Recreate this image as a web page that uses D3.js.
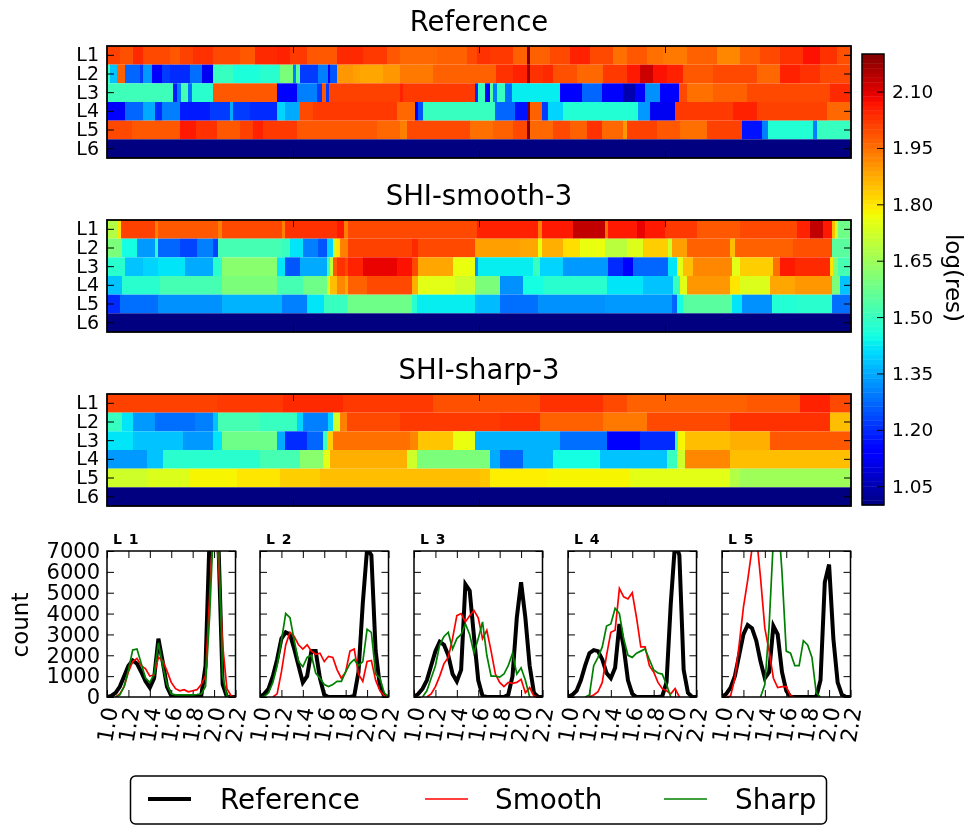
<!DOCTYPE html>
<html>
<head>
<meta charset="utf-8">
<script src="https://cdn.jsdelivr.net/npm/d3@7"></script>
<style>
  body { margin: 0; background: #fff; }
  svg { display: block; font-family: "DejaVu Sans", sans-serif; filter: blur(0.6px); }
</style>
</head>
<body>
<svg id="chart" width="970" height="825"></svg>
<script>
// heatmap rows: [end of run along the axis, log(res)]
const refL1 = [[13,2.01],[26,1.99],[36,2.04],[63,2.0],[73,1.98],[86,2.01],[106,2.03],[133,2.0],[148,1.98],[170,2.04],[183,2.05],[200,2.02],[230,1.98],[256,2.04],[280,2.02],[293,1.98],[316,1.96],[330,1.96],[360,1.97],[370,2.0],[383,2.03],[406,2.02],[420,1.97],[423,2.2],[443,1.97],[463,2.0],[483,2.05],[506,2.0],[520,1.95],[540,1.98],[556,1.95],[580,1.94],[610,1.97],[633,1.92],[653,1.97],[673,2.0],[696,2.03],[713,2.07],[730,2.03],[744,1.99]];
const refL2 = [[3,1.5],[10,1.38],[18,1.97],[33,1.27],[36,1.22],[45,1.33],[55,1.15],[63,1.22],[83,1.2],[95,1.28],[106,1.12],[126,1.5],[153,1.46],[173,1.48],[186,1.6],[189,1.3],[193,1.55],[211,1.22],[221,1.3],[223,1.15],[230,1.25],[246,1.9],[253,1.89],[276,1.88],[293,1.9],[326,1.94],[360,1.97],[389,1.97],[406,2.03],[420,2.05],[423,2.17],[436,2.03],[446,2.04],[470,1.99],[496,1.96],[520,2.02],[533,2.06],[546,2.12],[560,2.07],[576,2.05],[606,1.98],[650,2.0],[673,1.96],[693,2.05],[713,2.03],[744,2.0]];
const refL3 = [[66,1.51],[70,1.18],[74,1.3],[81,1.52],[85,1.28],[106,1.48],[170,1.98],[190,1.15],[196,1.3],[210,1.3],[215,1.22],[219,1.98],[222,1.22],[293,2.01],[296,2.05],[368,2.02],[371,1.2],[378,1.5],[383,1.15],[386,1.55],[390,1.3],[398,1.5],[405,1.28],[453,1.43],[466,1.15],[475,1.13],[495,1.27],[516,1.13],[528,1.05],[538,1.15],[553,1.32],[572,1.15],[580,2.0],[606,1.95],[640,1.97],[723,2.0],[744,2.04]];
const refL4 = [[18,1.15],[36,1.27],[48,1.35],[55,1.2],[73,1.3],[103,1.18],[123,1.22],[126,1.35],[143,1.22],[170,1.2],[178,1.4],[193,1.35],[206,2.0],[290,2.02],[308,1.96],[311,1.15],[316,1.25],[388,1.5],[408,1.27],[420,1.17],[423,2.2],[435,1.97],[441,1.22],[456,1.4],[531,1.47],[543,1.33],[568,1.12],[626,2.02],[650,2.05],[720,2.01],[744,1.96]];
const refL5 = [[25,2.0],[73,1.98],[89,2.06],[110,2.03],[133,1.98],[146,2.01],[156,2.05],[190,2.02],[270,1.98],[293,1.96],[300,1.93],[363,2.0],[386,1.95],[406,1.97],[420,2.0],[423,2.2],[446,1.96],[463,2.0],[480,1.97],[495,2.03],[516,1.96],[520,1.9],[550,2.01],[573,1.98],[600,1.95],[635,2.01],[655,1.17],[661,1.3],[706,1.47],[710,1.3],[744,1.5]];
const smoothL1 = [[10,1.68],[14,1.8],[48,2.01],[51,1.93],[111,1.98],[115,1.93],[175,2.0],[178,1.93],[230,2.03],[237,2.06],[241,1.93],[293,2.0],[370,2.0],[393,2.05],[431,2.05],[435,1.93],[466,2.06],[498,2.13],[501,1.95],[530,2.06],[538,2.09],[558,2.06],[590,2.02],[633,1.98],[690,2.0],[703,2.05],[716,2.13],[725,2.06],[728,1.85],[731,1.72],[744,1.58]];
const smoothL2 = [[15,1.6],[30,1.45],[48,1.33],[51,1.48],[73,1.27],[90,1.23],[106,1.3],[111,1.23],[175,1.52],[183,1.5],[196,1.42],[211,1.3],[220,1.25],[226,1.4],[229,1.7],[233,1.8],[241,1.93],[305,2.01],[311,2.04],[368,2.0],[413,1.89],[431,1.88],[435,1.76],[456,1.87],[473,1.81],[498,1.76],[520,1.69],[536,1.74],[561,1.83],[565,1.72],[580,1.89],[623,1.97],[628,1.85],[686,1.97],[725,1.99],[744,1.55]];
const smoothL3 = [[18,1.48],[36,1.38],[51,1.4],[78,1.42],[106,1.35],[115,1.48],[170,1.62],[178,1.42],[193,1.25],[220,1.35],[223,1.5],[226,1.7],[230,1.98],[238,2.03],[241,2.0],[256,2.05],[290,2.09],[305,2.07],[311,2.0],[346,1.88],[368,1.76],[371,1.32],[426,1.43],[433,1.5],[456,1.4],[501,1.33],[516,1.2],[526,1.14],[561,1.27],[570,1.42],[576,1.75],[586,1.85],[625,1.92],[633,1.75],[666,1.83],[673,1.95],[688,2.06],[723,2.04],[726,1.8],[731,1.6],[744,1.52]];
const smoothL4 = [[15,1.38],[53,1.48],[115,1.52],[170,1.6],[196,1.52],[220,1.58],[223,1.72],[230,1.85],[238,1.92],[241,1.88],[260,1.97],[305,2.0],[311,1.87],[348,1.75],[368,1.72],[393,1.6],[416,1.32],[436,1.45],[500,1.48],[536,1.42],[566,1.38],[573,1.5],[580,1.75],[623,1.9],[633,1.8],[663,1.74],[688,1.88],[725,1.9],[733,1.6],[744,1.38]];
const smoothL5 = [[13,1.2],[51,1.28],[115,1.32],[175,1.36],[200,1.3],[217,1.42],[240,1.5],[305,1.58],[310,1.48],[368,1.43],[393,1.37],[431,1.28],[498,1.32],[565,1.33],[570,1.27],[576,1.45],[625,1.55],[635,1.42],[665,1.32],[690,1.47],[725,1.48],[744,1.28]];
const sharpL1 = [[110,2.01],[176,2.02],[236,2.04],[326,2.02],[393,1.99],[433,1.99],[496,2.03],[520,2.0],[580,1.97],[640,1.97],[693,1.98],[723,2.05],[744,2.0]];
const sharpL2 = [[15,1.5],[26,1.42],[48,1.33],[88,1.28],[106,1.3],[111,1.38],[153,1.52],[190,1.5],[196,1.4],[221,1.3],[226,1.4],[233,1.72],[240,1.93],[293,2.0],[393,2.02],[433,2.03],[496,1.97],[540,1.94],[623,2.0],[723,2.03],[744,1.85]];
const sharpL3 = [[26,1.42],[76,1.38],[106,1.33],[115,1.42],[170,1.58],[178,1.35],[200,1.2],[216,1.27],[220,1.5],[226,1.83],[303,1.95],[311,1.92],[346,1.84],[368,1.76],[453,1.36],[500,1.28],[533,1.15],[568,1.2],[571,1.5],[578,1.78],[623,1.85],[663,1.87],[744,1.98]];
const sharpL4 = [[40,1.33],[56,1.38],[153,1.48],[193,1.52],[216,1.62],[223,1.75],[300,1.87],[310,1.72],[383,1.6],[393,1.35],[416,1.27],[446,1.36],[493,1.45],[560,1.38],[570,1.5],[578,1.72],[623,1.92],[744,1.85]];
const sharpL5 = [[40,1.72],[83,1.74],[130,1.78],[173,1.8],[213,1.83],[310,1.85],[373,1.85],[383,1.84],[440,1.79],[523,1.78],[623,1.75],[633,1.68],[744,1.65]];
const emptyL6 = [[744,1.0]];

const rowNames = ["L1", "L2", "L3", "L4", "L5", "L6"];
const heatTitles = ["Reference", "SHI-smooth-3", "SHI-sharp-3"];
const colorTicks = [1.05, 1.20, 1.35, 1.50, 1.65, 1.80, 1.95, 2.10];

// histogram counts, one value for each bin of histBins
const histBins = d3.range(31).map(i => 1 + i * 0.04);
const histTicksX = [1.0, 1.2, 1.4, 1.6, 1.8, 2.0, 2.2];
const histTicksY = [0, 1000, 2000, 3000, 4000, 5000, 6000, 7000];
const histNames = ["L 1", "L 2", "L 3", "L 4", "L 5"];
const refHist1 = [0,50,200,500,1000,1500,1750,1600,1200,750,450,900,2800,1700,500,60,0,0,0,0,0,0,50,1500,8000,12000,7500,600,0,0,0];
const refHist2 = [0,150,400,1000,1800,2800,3100,3000,2300,1500,700,1000,2200,2200,900,100,0,0,0,0,0,0,50,1200,4500,7100,6800,2200,500,50,0];
const refHist3 = [0,150,400,800,1500,2200,2650,2500,2000,1100,750,1300,5400,5100,2900,800,50,0,0,0,0,0,100,1000,3800,5500,3800,1500,200,0,0];
const refHist4 = [0,100,300,800,1500,2100,2250,2200,1800,1150,900,1400,3500,2400,800,150,0,0,0,0,0,0,30,700,4500,7400,6800,1300,200,0,0];
const refHist5 = [0,150,450,1000,2000,3000,3450,3300,2700,1700,900,1200,3400,3000,1200,300,0,0,0,0,0,0,0,800,5500,6350,2800,700,100,0,0];
const smoothHist1 = [0,0,0,150,500,1200,1700,1850,1500,1350,1000,1050,1900,1750,1250,700,400,300,350,250,300,350,600,1000,5000,9000,6500,2500,400,50,0];
const smoothHist2 = [0,0,0,0,150,1200,2500,3100,2900,2500,2300,2500,2200,2050,2100,1700,1950,1900,1300,900,1200,2200,2300,1100,750,1700,1750,800,300,60,0];
const smoothHist3 = [0,0,0,0,150,500,1000,1600,1900,2800,3900,4000,3600,3900,4150,3800,2800,3200,2200,1100,700,500,700,650,700,850,200,450,50,0,0];
const smoothHist4 = [0,0,0,0,0,0,100,250,700,2000,3100,3200,5200,4800,4700,5000,3800,2400,2400,1500,1200,700,400,300,150,400,0,0,0,0,0];
const smoothHist5 = [0,0,50,900,2500,4300,5600,7100,7800,5700,3300,2200,900,450,500,500,50,0,0,0,0,0,0,0,0,0,0,0,0,0,0];
const sharpHist1 = [0,0,0,100,500,1300,2250,2300,1600,900,700,1100,2600,1500,600,150,100,100,100,100,100,120,150,500,4000,9000,8000,1000,50,0,0];
const sharpHist2 = [0,30,200,700,1500,2700,4000,3800,2700,1700,1450,1900,2000,1150,900,600,500,600,750,750,1200,1600,1800,1500,1700,3250,3100,1100,900,200,0];
const sharpHist3 = [0,0,0,300,900,1500,2500,2900,3100,2300,2800,3000,3500,3000,2100,2800,3600,2000,1000,1000,950,1100,1500,2100,1100,1400,800,0,0,0,0];
const sharpHist4 = [0,0,0,0,0,100,1500,1900,2400,3400,3500,4250,4000,2800,2000,1900,2100,2200,2300,1800,1300,1150,1100,600,0,0,0,0,0,0,0];
const sharpHist5 = [0,0,0,0,0,0,0,0,0,0,600,3400,7600,9000,6000,2200,2100,1500,1500,2700,2500,1900,200,0,0,0,0,0,0,0,0];

const legendItems = [
    { label: "Reference", color: "#000", width: 4 },
    { label: "Smooth", color: "#ff0000", width: 1.6 },
    { label: "Sharp", color: "#008000", width: 1.6 }
];

const heatRows = [
    [refL1, refL2, refL3, refL4, refL5, emptyL6],
    [smoothL1, smoothL2, smoothL3, smoothL4, smoothL5, emptyL6],
    [sharpL1, sharpL2, sharpL3, sharpL4, sharpL5, emptyL6]
];
const histSeries = [
    [refHist1, smoothHist1, sharpHist1],
    [refHist2, smoothHist2, sharpHist2],
    [refHist3, smoothHist3, sharpHist3],
    [refHist4, smoothHist4, sharpHist4],
    [refHist5, smoothHist5, sharpHist5]
];

const svg = d3.select("#chart");

// jet colormap
const jetR = d3.scaleLinear().domain([0, 0.35, 0.66, 0.89, 1]).range([0, 0, 1, 1, 0.5]);
const jetG = d3.scaleLinear().domain([0, 0.125, 0.375, 0.64, 0.91, 1]).range([0, 0, 1, 1, 0, 0]);
const jetB = d3.scaleLinear().domain([0, 0.11, 0.34, 0.65, 1]).range([0.5, 1, 1, 0, 0]);
const valueNorm = d3.scaleLinear().domain([1.0, 2.2]).range([0, 1]).clamp(true);
function jet(value) {
    const t = valueNorm(value);
    return d3.rgb(jetR(t) * 255, jetG(t) * 255, jetB(t) * 255).formatRgb();
}

function styleAxis(sel, fontSize) {
    sel.select(".domain").remove();
    sel.selectAll("line").attr("stroke", "#000").attr("stroke-width", 1);
    sel.selectAll("text").attr("fill", "#000").attr("font-size", fontSize)
        .attr("font-family", "DejaVu Sans");
}

// Heatmap panels
const heatX = d3.scaleLinear().domain([0, 744]).range([107, 851]);
const heatTops = [46, 220, 394];
const heatHeight = 112;

heatRows.forEach((rows, p) => {
    const top = heatTops[p];
    const y = d3.scaleBand().domain(rowNames).range([top, top + heatHeight]);
    const g = svg.append("g");

    rows.forEach((runs, r) => {
        let start = 0;
        runs.forEach(([end, value]) => {
            g.append("rect")
                .attr("x", heatX(start))
                .attr("y", y(rowNames[r]))
                .attr("width", heatX(end) - heatX(start) + 0.3)
                .attr("height", y.bandwidth())
                .attr("fill", jet(value));
            start = end;
        });
    });

    const tickVals = [186, 372, 558];
    g.append("g").attr("transform", `translate(0,${top})`)
        .call(d3.axisTop(heatX).tickValues(tickVals).tickSize(-7).tickFormat(""))
        .call(styleAxis, 10);
    g.append("g").attr("transform", `translate(0,${top + heatHeight})`)
        .call(d3.axisBottom(heatX).tickValues(tickVals).tickSize(-7).tickFormat(""))
        .call(styleAxis, 10);
    g.append("g").attr("transform", "translate(107,0)")
        .call(d3.axisLeft(y).tickSize(-7).tickPadding(8))
        .call(styleAxis, 19);
    g.append("g").attr("transform", "translate(851,0)")
        .call(d3.axisRight(y).tickSize(-7).tickFormat(""))
        .call(styleAxis, 10);

    g.append("rect")
        .attr("x", 107).attr("y", top)
        .attr("width", 744).attr("height", heatHeight)
        .attr("fill", "none").attr("stroke", "#000").attr("stroke-width", 1.8);

    svg.append("text")
        .attr("x", 479).attr("y", top - 15)
        .attr("text-anchor", "middle")
        .attr("font-size", 27.5)
        .text(heatTitles[p]);
});

// Colorbar
const barY = d3.scaleLinear().domain([1.0, 2.2]).range([505, 54]);
const barG = svg.append("g");
d3.range(96).map(i => 1 + i * 0.0125).forEach(v => {
    barG.append("rect")
        .attr("x", 862)
        .attr("y", barY(v + 0.0125))
        .attr("width", 22)
        .attr("height", barY(v) - barY(v + 0.0125) + 0.4)
        .attr("fill", jet(v + 0.00625));
});
barG.append("g").attr("transform", "translate(884,0)")
    .call(d3.axisRight(barY).tickValues(colorTicks).tickSize(-7).tickPadding(8)
        .tickFormat(d3.format(".2f")))
    .call(styleAxis, 18.5);
barG.append("rect")
    .attr("x", 862).attr("y", 54).attr("width", 22).attr("height", 451)
    .attr("fill", "none").attr("stroke", "#000").attr("stroke-width", 1.5);
svg.append("text")
    .attr("transform", "translate(946,278) rotate(90)")
    .attr("text-anchor", "middle")
    .attr("font-size", 23)
    .text("log(res)");

// Histogram panels
const histLefts = [107, 260, 414, 568, 722];
const histWidth = 128.5;
const histTop = 551;
const histBottom = 697;
const histColors = ["#000", "#ff0000", "#008000"];
const histWidths = [4, 1.7, 1.7];
const histY = d3.scaleLinear().domain([0, 7000]).range([histBottom, histTop]);

histSeries.forEach((series, p) => {
    const left = histLefts[p];
    const x = d3.scaleLinear().domain([1.0, 2.2]).range([left, left + histWidth]);
    const g = svg.append("g");

    svg.append("clipPath").attr("id", `hist-clip-${p}`)
        .append("rect")
        .attr("x", left).attr("y", histTop)
        .attr("width", histWidth).attr("height", histBottom - histTop);

    g.append("g").attr("transform", `translate(0,${histBottom})`)
        .call(d3.axisBottom(x).tickValues(histTicksX).tickSize(-7).tickFormat(""))
        .call(styleAxis, 10);
    g.append("g").attr("transform", `translate(0,${histTop})`)
        .call(d3.axisTop(x).tickValues(histTicksX).tickSize(-7).tickFormat(""))
        .call(styleAxis, 10);
    g.append("g").attr("transform", `translate(${left},0)`)
        .call(d3.axisLeft(histY).tickValues(histTicksY).tickSize(-7).tickPadding(7)
            .tickFormat(p === 0 ? d3.format("d") : ""))
        .call(styleAxis, 21);
    g.append("g").attr("transform", `translate(${left + histWidth},0)`)
        .call(d3.axisRight(histY).tickValues(histTicksY).tickSize(-7).tickFormat(""))
        .call(styleAxis, 10);

    series.forEach((values, s) => {
        // empty bins of the two runs are not drawn along the baseline
        const line = d3.line()
            .x((d, i) => x(histBins[i]))
            .y(d => histY(d))
            .defined((d, i, arr) => s === 0 || d > 0 || arr[i - 1] > 0 || arr[i + 1] > 0);
        g.append("path")
            .datum(values)
            .attr("clip-path", `url(#hist-clip-${p})`)
            .attr("fill", "none")
            .attr("stroke", histColors[s])
            .attr("stroke-width", histWidths[s])
            .attr("d", line);
    });

    g.append("rect")
        .attr("x", left).attr("y", histTop)
        .attr("width", histWidth).attr("height", histBottom - histTop)
        .attr("fill", "none").attr("stroke", "#000").attr("stroke-width", 1.5);

    histTicksX.forEach(t => {
        g.append("text")
            .attr("transform", `translate(${x(t) + 8},726) rotate(-80)`)
            .attr("text-anchor", "middle")
            .attr("font-size", 22)
            .text(d3.format(".1f")(t));
    });

    svg.append("text")
        .attr("x", left + 6).attr("y", 544)
        .attr("font-size", 14)
        .attr("font-weight", "bold")
        .attr("word-spacing", 2)
        .text(histNames[p]);
});

svg.append("text")
    .attr("transform", "translate(28,625) rotate(-90)")
    .attr("text-anchor", "middle")
    .attr("font-size", 23)
    .text("count");

// Legend
const legend = svg.append("g");
legend.append("rect")
    .attr("x", 130.5).attr("y", 776)
    .attr("width", 696).attr("height", 48)
    .attr("rx", 5)
    .attr("fill", "#fff").attr("stroke", "#000").attr("stroke-width", 1.5);
const legendLineX = [148, 425, 664];
const legendTextX = [220, 495, 735];
legendItems.forEach((item, i) => {
    legend.append("line")
        .attr("x1", legendLineX[i]).attr("x2", legendLineX[i] + 43)
        .attr("y1", 799).attr("y2", 799)
        .attr("stroke", item.color).attr("stroke-width", item.width);
    legend.append("text")
        .attr("x", legendTextX[i]).attr("y", 809)
        .attr("font-size", 27.8)
        .text(item.label);
});
</script>
</body>
</html>
